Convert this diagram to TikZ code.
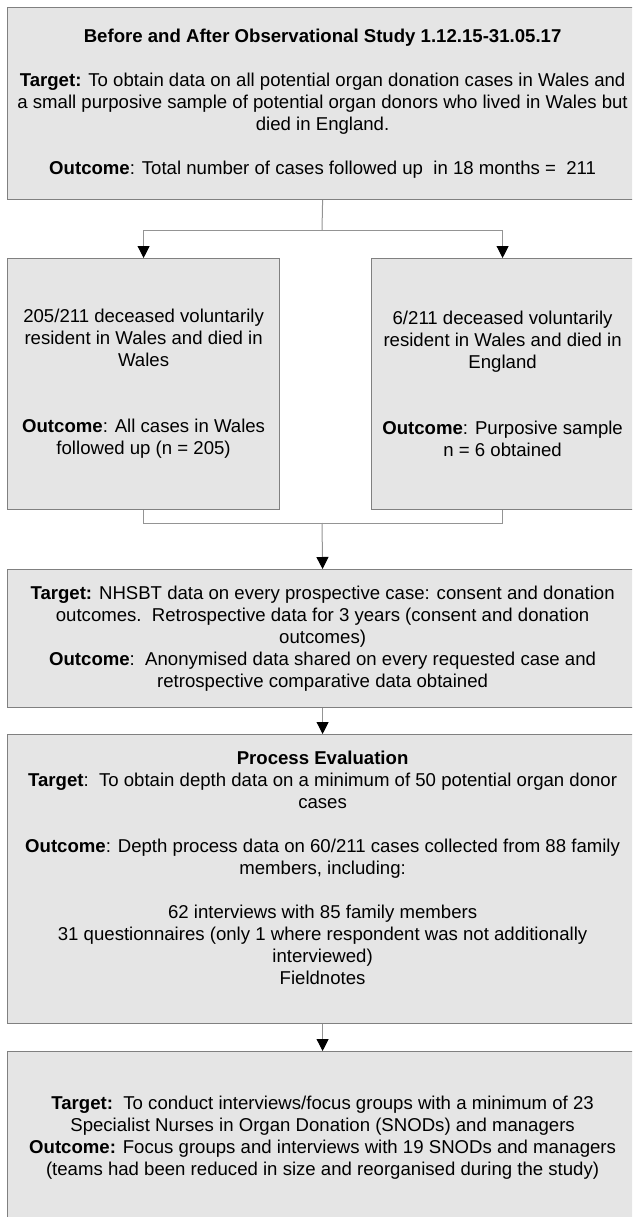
\documentclass[tikz,border=0pt]{standalone}
\usepackage{fontspec}
\setmainfont{Liberation Sans}
\usetikzlibrary{arrows.meta}

\begin{document}
\begin{tikzpicture}[x=1pt, y=-1pt, line width=1.2pt,
        box/.style={draw=black!50, fill=black!10, inner sep=0pt, align=center,
            anchor=north west, font=\fontsize{18.6}{22}\selectfont},
        link/.style={draw=black!42, line width=1pt},
        tip/.style={-{Triangle[width=12pt, length=12pt, color=black]}}]
            \useasboundingbox (0,0) rectangle (632,1217);
            \clip (0,0) rectangle (632,1217);

            % Kaesten.
            \node[box, minimum width=630pt, minimum height=192pt] (study) at (7,7)
                {\textbf{Before and After Observational Study 1.12.15-31.05.17}\\[22pt]
                \textbf{Target:} To obtain data on all potential organ donation cases in Wales and\\
                a small purposive sample of potential organ donors who lived in Wales but\\
                died in England.\\[22pt]
                \textbf{Outcome}: Total number of cases followed up\ \ in 18 months =\ \ 211};

            \node[box, minimum width=272pt, minimum height=251pt] (wales) at (7,258)
                {205/211 deceased voluntarily\\
                resident in Wales and died in\\
                Wales\\[44pt]
                \textbf{Outcome}: All cases in Wales\\
                followed up (n = 205)};

            \node[box, minimum width=262pt, minimum height=251pt] (england) at (371,258)
                {6/211 deceased voluntarily\\
                resident in Wales and died in\\
                England\\[44pt]
                \textbf{Outcome}: Purposive sample\\
                n = 6 obtained};

            \node[box, minimum width=630pt, minimum height=138pt] (nhsbt) at (7,569)
                {\textbf{Target:} NHSBT data on every prospective case: consent and donation\\
                outcomes.\ \ Retrospective data for 3 years (consent and donation\\
                outcomes)\\
                \textbf{Outcome}:\ \ Anonymised data shared on every requested case and\\
                retrospective comparative data obtained};

            \node[box, minimum width=630pt, minimum height=289pt] (process) at (7,734)
                {\textbf{Process Evaluation}\\
                \textbf{Target}:\ \ To obtain depth data on a minimum of 50 potential organ donor\\
                cases\\[22pt]
                \textbf{Outcome}: Depth process data on 60/211 cases collected from 88 family\\
                members, including:\\[22pt]
                62 interviews with 85 family members\\
                31 questionnaires (only 1 where respondent was not additionally\\
                interviewed)\\
                Fieldnotes\\
                \mbox{}};

            \node[box, minimum width=630pt, minimum height=172pt] (snod) at (7,1051)
                {\textbf{Target:}\ \ To conduct interviews/focus groups with a minimum of 23\\
                Specialist Nurses in Organ Donation (SNODs) and managers\\
                \textbf{Outcome:} Focus groups and interviews with 19 SNODs and managers\\
                (teams had been reduced in size and reorganised during the study)};

            % Verbindungen.
            \coordinate (split) at (322,230);
            \coordinate (join) at (322,523);
            \draw[link] (study.south) -- (split);
            \draw[link, tip] (split) -| (wales.north);
            \draw[link, tip] (split) -| (england.north);
            \draw[link] (wales.south) |- (join);
            \draw[link] (england.south) |- (join);
            \draw[link, tip] (join) -- (nhsbt.north);
            \foreach \a/\b in {nhsbt/process, process/snod}
            {
                \draw[link, tip] (\a.south) -- (\b.north);
            }
\end{tikzpicture}
\end{document}
